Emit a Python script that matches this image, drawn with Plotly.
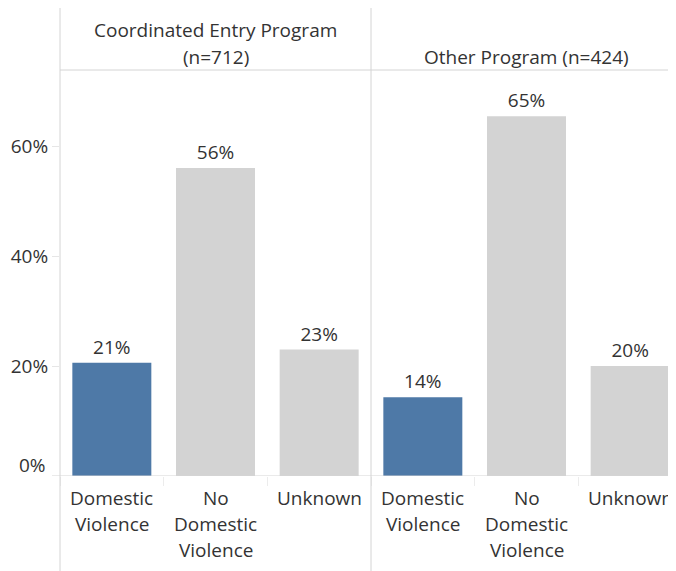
import plotly.graph_objects as go

# ---- data ----
categories = ["Domestic Violence", "No Domestic Violence", "Unknown"]
category_lines = [["Domestic", "Violence"], ["No", "Domestic", "Violence"], ["Unknown"]]
panel_titles = [["Coordinated Entry Program", "(n=712)"], ["Other Program (n=424)"]]
coordinated_values = [20.6, 56.0, 23.0]
other_values = [14.3, 65.4, 20.0]
bar_colors = ["#4e79a7", "#d3d3d3", "#d3d3d3"]
y_tick_values = [20, 40, 60]
y_tick_labels = ["20%", "40%", "60%"]

OFF = 8  # page body margin: figure is drawn 8px right/down of the window corner
W, H = 676 - OFF, 571 - OFF
FONT = "Open Sans"
FS = 19
TXT = "#333333"
LINE = "#d4d4d4"

# screen-pixel layout positions
x0, xmid, xend = 60, 371, 682
y_base, y_head, y_top = 476, 70, 5

def px(x):
    return (x - OFF) / W

def py(y):
    return (H - (y - OFF)) / H

fig = go.Figure()
for i, vals in enumerate([coordinated_values, other_values]):
    ax = "x" if i == 0 else "x2"
    fig.add_trace(go.Bar(
        x=categories, y=vals, xaxis=ax, yaxis="y",
        marker=dict(color=bar_colors, line=dict(width=0)),
        texttemplate="%{y:.0f}%", textposition="outside",
        textfont=dict(family=FONT, size=FS, color=TXT),
        cliponaxis=False, hoverinfo="skip", showlegend=False,
    ))

band = (xmid - x0) / 3.0
right_span = (W + OFF - xmid) / band

fig.update_layout(
    width=W, height=H,
    margin=dict(l=0, r=0, t=0, b=0),
    paper_bgcolor="white", plot_bgcolor="white",
    bargap=0.238,
    font=dict(family=FONT, size=FS, color=TXT),
    xaxis=dict(domain=[px(x0), px(xmid)], range=[-0.5, 2.5], type="category",
               showticklabels=False, showgrid=False, zeroline=False, showline=False,
               ticks="outside", tickson="boundaries", ticklen=9, tickcolor="#ececec",
               anchor="y", fixedrange=True),
    xaxis2=dict(domain=[px(xmid), 1], range=[-0.5, -0.5 + right_span], type="category",
                showticklabels=False, showgrid=False, zeroline=False, showline=False,
                ticks="outside", tickson="boundaries", ticklen=9, tickcolor="#ececec",
                anchor="y", fixedrange=True),
    yaxis=dict(domain=[py(y_base), py(y_head)], range=[0, (y_base - y_head) / 5.5],
               tickvals=y_tick_values, ticktext=y_tick_labels,
               ticks="outside", ticklen=7, tickcolor="#e6e6e6",
               ticklabelstandoff=0,
               tickfont=dict(family=FONT, size=FS, color=TXT),
               showgrid=False, zeroline=False, showline=False, fixedrange=True),
)

shapes = []
shapes.append(dict(type="line", xref="paper", yref="y", x0=px(52), x1=1, y0=0, y1=0,
                   line=dict(color=LINE, width=1)))
shapes.append(dict(type="line", xref="paper", yref="paper", x0=px(x0), x1=1,
                   y0=py(y_head), y1=py(y_head), line=dict(color=LINE, width=1)))
for xv in (x0, xmid):
    shapes.append(dict(type="line", xref="paper", yref="paper", x0=px(xv), x1=px(xv),
                       y0=0, y1=py(y_top), line=dict(color=LINE, width=1)))
fig.update_layout(shapes=shapes)

ann = []
ann.append(dict(text="0%", xref="paper", yref="paper", x=px(48), y=py(465),
                xanchor="right", yanchor="middle", showarrow=False,
                font=dict(family=FONT, size=FS, color=TXT)))
for ax in ("x", "x2"):
    for cat, lines in zip(categories, category_lines):
        for j, ln in enumerate(lines):
            ann.append(dict(text=ln, xref=ax, yref="paper", x=cat, y=py(498 + 26 * j),
                            xanchor="center", yanchor="middle", showarrow=False,
                            font=dict(family=FONT, size=FS, color=TXT)))
centers = [(x0 + xmid) / 2, (xmid + xend) / 2]
for c, lines in zip(centers, panel_titles):
    n = len(lines)
    for j, ln in enumerate(lines):
        yc = 57 - 27 * (n - 1 - j)
        ann.append(dict(text=ln, xref="paper", yref="paper", x=px(c), y=py(yc),
                        xanchor="center", yanchor="middle", showarrow=False,
                        font=dict(family=FONT, size=FS, color=TXT)))
fig.update_layout(annotations=ann)

fig.write_html("out.html")
